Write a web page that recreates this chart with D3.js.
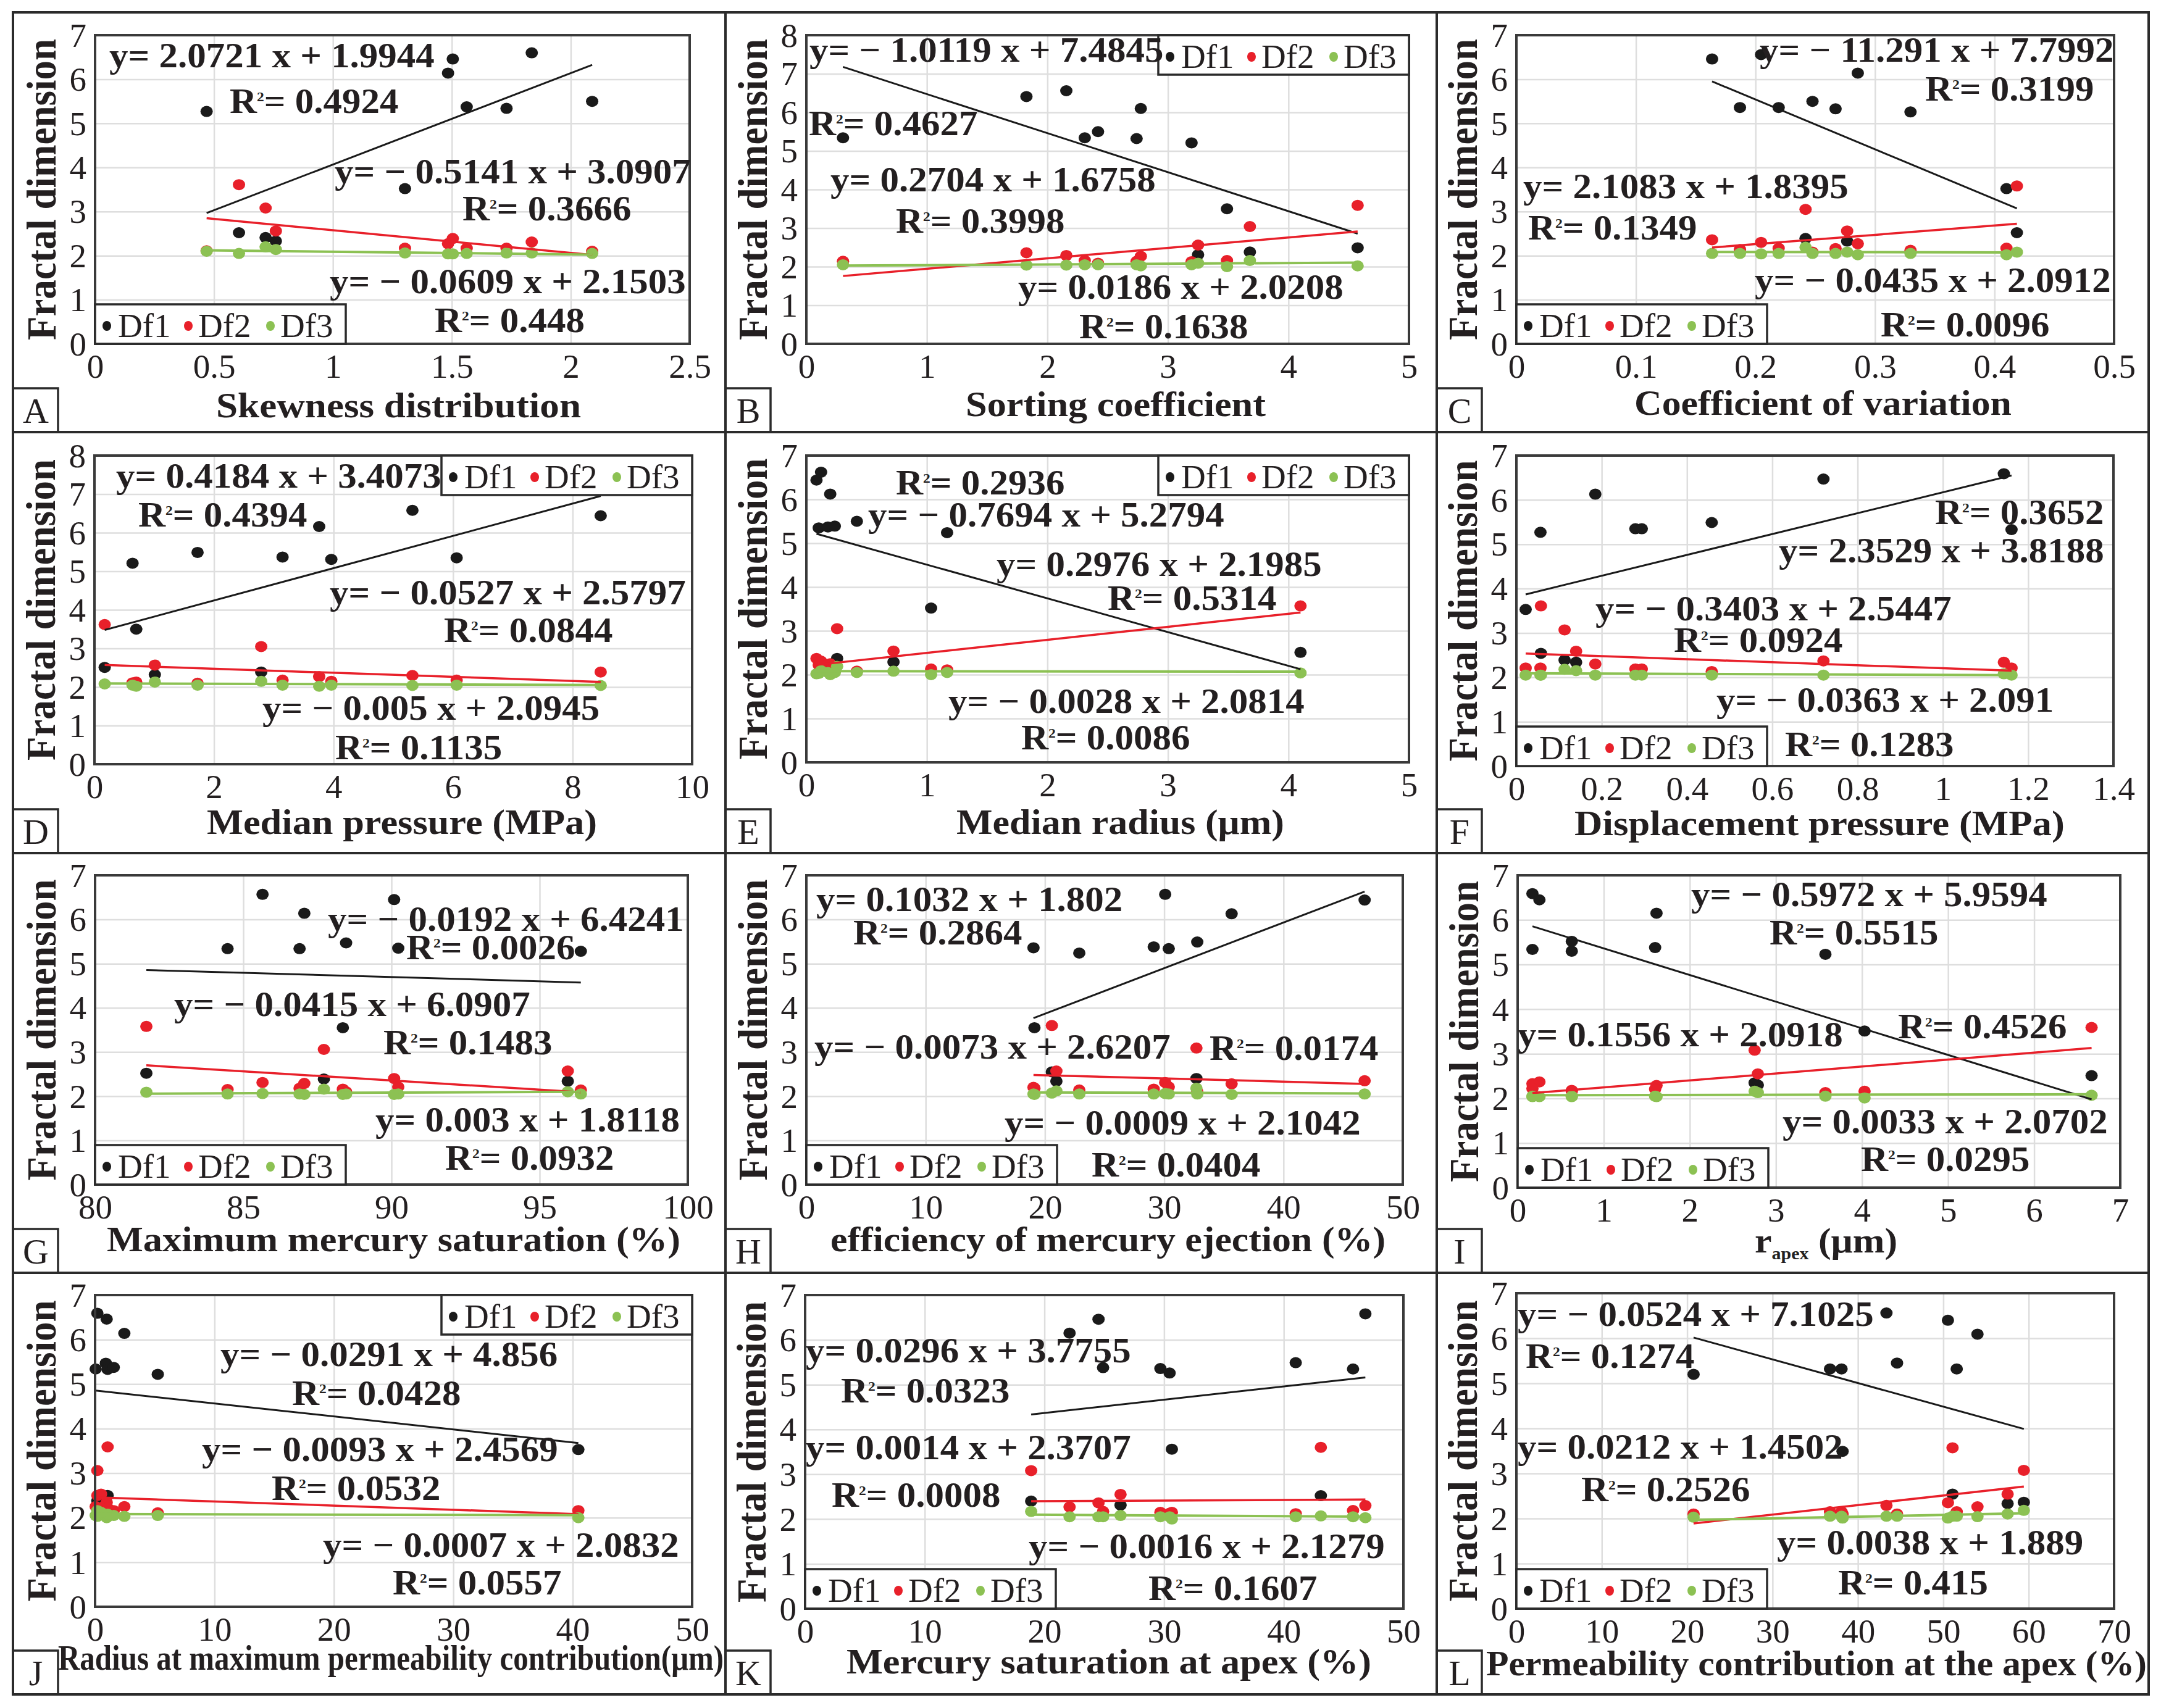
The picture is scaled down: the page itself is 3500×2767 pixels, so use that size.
<!DOCTYPE html>
<html><head><meta charset="utf-8">
<script src="https://cdn.jsdelivr.net/npm/d3@7"></script>
<style>
body{margin:0;background:#fff}
svg text{font-family:"Liberation Serif","Times New Roman",serif;fill:#231f20}
</style>
</head><body>
<svg id="c" width="3500" height="2767"></svg>
<script>
// ---------------- DATA ----------------
const SERIES = ["Df1", "Df2", "Df3"];

// A: Skewness distribution
const A_x   = [0.469, 0.605, 0.717, 0.76, 1.303, 1.484, 1.504, 1.5625, 1.73, 1.836, 2.09];
const A_df1 = [5.27, 2.52, 2.41, 2.33, 3.52, 6.14, 6.46, 5.375, 5.34, 6.6, 5.5];
const A_df2 = [2.11, 3.61, 3.08, 2.56, 2.17, 2.27, 2.39, 2.17, 2.17, 2.31, 2.1];
const A_df3 = [2.1, 2.05, 2.2, 2.14, 2.06, 2.04, 2.04, 2.05, 2.06, 2.06, 2.05];
const A_fit = [[2.0721, 1.9944], [-0.5141, 3.0907], [-0.0609, 2.1503]];
const A_r2  = [0.4924, 0.3666, 0.448];
const A_xTicks = [0, 0.5, 1, 1.5, 2, 2.5];

// B: Sorting coefficient
const B_x   = [0.304, 1.826, 2.157, 2.31, 2.42, 2.74, 2.775, 3.196, 3.25, 3.49, 3.68, 4.574];
const B_df1 = [5.34, 6.41, 6.56, 5.34, 5.5, 5.32, 6.1, 5.21, 2.31, 3.5, 2.38, 2.49];
const B_df2 = [2.14, 2.36, 2.29, 2.16, 2.09, 2.14, 2.27, 2.13, 2.56, 2.16, 3.04, 3.59];
const B_df3 = [2.05, 2.04, 2.04, 2.05, 2.05, 2.05, 2.02, 2.05, 2.09, 2.0, 2.16, 2.02];
const B_fit = [[-1.0119, 7.4845], [0.2704, 1.6758], [0.0186, 2.0208]];
const B_r2  = [0.4627, 0.3998, 0.1638];
const B_xTicks = [0, 1, 2, 3, 4, 5];

// C: Coefficient of variation
const C_x   = [0.1637, 0.187, 0.2047, 0.2194, 0.2419, 0.2477, 0.267, 0.2767, 0.2856, 0.3297, 0.41, 0.4187];
const C_df1 = [6.46, 5.36, 6.56, 5.36, 2.39, 5.5, 5.33, 2.33, 6.14, 5.26, 3.52, 2.52];
const C_df2 = [2.36, 2.14, 2.3, 2.17, 3.05, 2.08, 2.16, 2.56, 2.27, 2.12, 2.17, 3.58];
const C_df3 = [2.05, 2.05, 2.04, 2.05, 2.19, 2.05, 2.05, 2.08, 2.02, 2.05, 2.02, 2.08];
const C_fit = [[-11.291, 7.7992], [2.1083, 1.8395], [-0.0435, 2.0912]];
const C_r2  = [0.3199, 0.1349, 0.0096];
const C_xTicks = [0, 0.1, 0.2, 0.3, 0.4, 0.5];

// D: Median pressure (MPa)
const D_x   = [0.171, 0.637, 0.699, 1.01, 1.725, 2.79, 3.147, 3.76, 3.963, 5.32, 6.06, 8.47];
const D_df1 = [2.51, 5.21, 3.5, 2.32, 5.49, 2.39, 5.37, 6.16, 5.31, 6.58, 5.35, 6.44];
const D_df2 = [3.62, 2.11, 2.13, 2.57, 2.1, 3.05, 2.18, 2.27, 2.15, 2.3, 2.18, 2.39];
const D_df3 = [2.08, 2.05, 2.02, 2.13, 2.05, 2.15, 2.05, 2.02, 2.05, 2.04, 2.05, 2.04];
const D_fit = [[0.4184, 3.4073], [-0.0527, 2.5797], [-0.005, 2.0945]];
const D_r2  = [0.4394, 0.0844, 0.1135];
const D_xTicks = [0, 2, 4, 6, 8, 10];

// E: Median radius (μm)
const E_x   = [0.084, 0.122, 0.198, 0.103, 0.179, 0.236, 0.419, 1.168, 1.035, 0.255, 0.723, 4.1];
const E_df1 = [6.44, 6.62, 6.12, 5.35, 5.37, 5.39, 5.5, 5.24, 3.52, 2.37, 2.29, 2.51];
const E_df2 = [2.37, 2.31, 2.25, 2.22, 2.22, 2.17, 2.08, 2.11, 2.13, 3.05, 2.54, 3.57];
const E_df3 = [2.02, 2.09, 2.0, 2.03, 2.05, 2.05, 2.05, 2.05, 2.0, 2.19, 2.08, 2.04];
const E_fit = [[-0.7694, 5.2794], [0.2976, 2.1985], [-0.0028, 2.0814]];
const E_r2  = [0.2936, 0.5314, 0.0086];
const E_xTicks = [0, 1, 2, 3, 4, 5];

// F: Displacement pressure (MPa)
const F_x   = [0.0217, 0.0564, 0.0575, 0.113, 0.14, 0.185, 0.279, 0.294, 0.458, 0.72, 1.143, 1.161];
const F_df1 = [3.53, 5.27, 2.54, 2.39, 2.34, 6.13, 5.35, 5.35, 5.49, 6.47, 6.59, 5.33];
const F_df2 = [2.21, 2.21, 3.61, 3.07, 2.59, 2.3, 2.19, 2.19, 2.13, 2.37, 2.34, 2.21];
const F_df3 = [2.05, 2.05, 2.05, 2.18, 2.15, 2.05, 2.05, 2.05, 2.05, 2.05, 2.08, 2.05];
const F_fit = [[2.3529, 3.8188], [-0.3403, 2.5447], [-0.0363, 2.091]];
const F_r2  = [0.3652, 0.0924, 0.1283];
const F_xTicks = [0, 0.2, 0.4, 0.6, 0.8, 1, 1.2, 1.4];

// G: Maximum mercury saturation (%)
const G_x   = [81.73, 84.47, 85.65, 86.9, 87.06, 87.72, 88.36, 88.47, 90.09, 90.23, 95.95, 96.39];
const G_df1 = [2.52, 5.34, 6.57, 5.34, 6.14, 2.39, 3.55, 5.47, 6.45, 5.35, 2.34, 5.28];
const G_df2 = [3.58, 2.15, 2.31, 2.18, 2.29, 3.06, 2.16, 2.1, 2.4, 2.21, 2.57, 2.14];
const G_df3 = [2.09, 2.05, 2.06, 2.05, 2.04, 2.16, 2.04, 2.05, 2.04, 2.05, 2.1, 2.05];
const G_fit = [[-0.0192, 6.4241], [-0.0415, 6.0907], [0.003, 1.8118]];
const G_r2  = [0.0026, 0.1483, 0.0932];
const G_xTicks = [80, 85, 90, 95, 100];

// H: efficiency of mercury ejection (%)
const H_x   = [19.04, 19.12, 20.58, 20.96, 22.88, 29.12, 30.08, 30.38, 32.7, 32.77, 35.65, 46.8];
const H_df1 = [5.36, 3.55, 2.55, 2.34, 5.24, 5.38, 6.57, 5.34, 2.4, 5.49, 6.13, 6.44];
const H_df2 = [2.2, 2.18, 3.6, 2.57, 2.14, 2.16, 2.31, 2.21, 3.09, 2.1, 2.28, 2.35];
const H_df3 = [2.05, 2.04, 2.07, 2.12, 2.05, 2.05, 2.06, 2.05, 2.18, 2.05, 2.04, 2.05];
const H_fit = [[0.1032, 1.802], [-0.0073, 2.6207], [-0.0009, 2.1042]];
const H_r2  = [0.2864, 0.0174, 0.0404];
const H_xTicks = [0, 10, 20, 30, 40, 50];

// I: r_apex (μm)
const I_x   = [0.172, 0.253, 0.172, 0.629, 0.629, 1.613, 1.597, 3.575, 4.03, 2.753, 2.79, 6.667];
const I_df1 = [6.59, 6.45, 5.34, 5.52, 5.3, 6.15, 5.38, 5.23, 3.51, 2.35, 2.3, 2.51];
const I_df2 = [2.33, 2.37, 2.22, 2.16, 2.18, 2.29, 2.21, 2.13, 2.16, 3.08, 2.55, 3.59];
const I_df3 = [2.04, 2.04, 2.05, 2.04, 2.05, 2.04, 2.05, 2.05, 2.01, 2.16, 2.13, 2.07];
const I_fit = [[-0.5972, 5.9594], [0.1556, 2.0918], [0.0033, 2.0702]];
const I_r2  = [0.5515, 0.4526, 0.0295];
const I_xTicks = [0, 1, 2, 3, 4, 5, 6, 7];

// J: Radius at maximum permeability contribution (μm)
const J_x   = [0.19, 0.97, 2.45, 0.05, 0.9, 1.05, 1.56, 5.25, 40.47, 1.05, 0.19, 0.5];
const J_df1 = [6.59, 6.46, 6.14, 5.34, 5.47, 5.33, 5.375, 5.22, 3.53, 2.5, 2.38, 2.33];
const J_df2 = [2.5, 2.34, 2.25, 2.25, 2.3, 2.22, 2.16, 2.11, 2.16, 3.59, 3.06, 2.53];
const J_df3 = [2.03, 2.0, 2.03, 2.05, 2.05, 2.05, 2.05, 2.05, 2.0, 2.08, 2.16, 2.12];
const J_fit = [[-0.0291, 4.856], [-0.0093, 2.4569], [-0.0007, 2.0832]];
const J_r2  = [0.0428, 0.0532, 0.0557];
const J_xTicks = [0, 10, 20, 30, 40, 50];

// K: Mercury saturation at apex (%)
const K_x   = [18.89, 22.1, 24.52, 24.9, 26.36, 29.69, 30.46, 30.65, 41.0, 43.1, 45.79, 46.82];
const K_df1 = [2.4, 6.15, 6.46, 5.38, 2.31, 5.36, 5.26, 3.56, 5.49, 2.52, 5.35, 6.58];
const K_df2 = [3.08, 2.27, 2.36, 2.17, 2.55, 2.15, 2.13, 2.15, 2.12, 3.6, 2.19, 2.3];
const K_df3 = [2.17, 2.05, 2.05, 2.05, 2.08, 2.05, 2.05, 2.0, 2.05, 2.07, 2.05, 2.03];
const K_fit = [[0.0296, 3.7755], [0.0014, 2.3707], [-0.0016, 2.1279]];
const K_r2  = [0.0323, 0.0008, 0.1607];
const K_xTicks = [0, 10, 20, 30, 40, 50];

// L: Permeability contribution at the apex (%)
const L_x   = [20.75, 36.73, 38.08, 38.2, 43.34, 44.58, 50.54, 51.08, 51.57, 54.0, 57.53, 59.43];
const L_df1 = [5.2, 5.32, 5.32, 3.49, 6.56, 5.45, 6.4, 2.54, 5.32, 6.09, 2.33, 2.36];
const L_df2 = [2.1, 2.15, 2.15, 2.1, 2.29, 2.1, 2.35, 3.57, 2.15, 2.26, 2.54, 3.07];
const L_df3 = [2.03, 2.05, 2.05, 2.01, 2.05, 2.05, 2.01, 2.05, 2.05, 2.04, 2.1, 2.18];
const L_fit = [[-0.0524, 7.1025], [0.0212, 1.4502], [0.0038, 1.889]];
const L_r2  = [0.1274, 0.2526, 0.415];
const L_xTicks = [0, 10, 20, 30, 40, 50, 60, 70];

const Y7 = [0, 1, 2, 3, 4, 5, 6, 7];
const Y8 = [0, 1, 2, 3, 4, 5, 6, 7, 8];
const Y_TITLE = "Fractal dimension";

const panels = [
  {id:"A", title:"Skewness distribution", x:A_x, df:[A_df1,A_df2,A_df3], fit:A_fit, r2:A_r2, xTicks:A_xTicks, yTicks:Y7},
  {id:"B", title:"Sorting coefficient", x:B_x, df:[B_df1,B_df2,B_df3], fit:B_fit, r2:B_r2, xTicks:B_xTicks, yTicks:Y8},
  {id:"C", title:"Coefficient of variation", x:C_x, df:[C_df1,C_df2,C_df3], fit:C_fit, r2:C_r2, xTicks:C_xTicks, yTicks:Y7},
  {id:"D", title:"Median pressure (MPa)", x:D_x, df:[D_df1,D_df2,D_df3], fit:D_fit, r2:D_r2, xTicks:D_xTicks, yTicks:Y8},
  {id:"E", title:"Median radius (μm)", x:E_x, df:[E_df1,E_df2,E_df3], fit:E_fit, r2:E_r2, xTicks:E_xTicks, yTicks:Y7},
  {id:"F", title:"Displacement pressure (MPa)", x:F_x, df:[F_df1,F_df2,F_df3], fit:F_fit, r2:F_r2, xTicks:F_xTicks, yTicks:Y7},
  {id:"G", title:"Maximum mercury saturation (%)", x:G_x, df:[G_df1,G_df2,G_df3], fit:G_fit, r2:G_r2, xTicks:G_xTicks, yTicks:Y7},
  {id:"H", title:"efficiency of mercury ejection (%)", x:H_x, df:[H_df1,H_df2,H_df3], fit:H_fit, r2:H_r2, xTicks:H_xTicks, yTicks:Y7},
  {id:"I", title:["r","apex"," (μm)"], x:I_x, df:[I_df1,I_df2,I_df3], fit:I_fit, r2:I_r2, xTicks:I_xTicks, yTicks:Y7},
  {id:"J", title:"Radius at maximum permeability contribution(μm)", x:J_x, df:[J_df1,J_df2,J_df3], fit:J_fit, r2:J_r2, xTicks:J_xTicks, yTicks:Y7},
  {id:"K", title:"Mercury saturation at apex (%)", x:K_x, df:[K_df1,K_df2,K_df3], fit:K_fit, r2:K_r2, xTicks:K_xTicks, yTicks:Y7},
  {id:"L", title:"Permeability contribution at the apex (%)", x:L_x, df:[L_df1,L_df2,L_df3], fit:L_fit, r2:L_r2, xTicks:L_xTicks, yTicks:Y7}
];

// ---------------- LAYOUT (pixels) ----------------
const layout = {
  A:{rect:[154,57,1117,557], legend:"bl", cell:[21,20,1175,700], title:[350,591,676],
     labels:[[177,109],[372,183],[542,297],[749,357],[534,475],[704,538]]},
  B:{rect:[1306,57,2282,557], legend:"tr", cell:[1175,20,2327,700], title:[1564,486,674],
     labels:[[1311,100],[1310,219],[1345,310],[1451,377],[1649,484],[1748,548]]},
  C:{rect:[2456,57,3424,557], legend:"bl", cell:[2327,20,3480,700], title:[2647,611,672],
     labels:[[2850,100],[3118,163],[2467,321],[2475,388],[2842,473],[3046,545]]},
  D:{rect:[153,738,1121,1238], legend:"tr", cell:[21,700,1175,1382], title:[335,632,1351],
     labels:[[188,790],[224,853],[534,979],[719,1040],[425,1166],[543,1230]]},
  E:{rect:[1306,738,2282,1235], legend:"tr", cell:[1175,700,2327,1382], title:[1549,531,1351],
     labels:[[1406,853],[1451,801],[1614,933],[1794,988],[1536,1155],[1654,1214]]},
  F:{rect:[2456,738,3423,1241], legend:"bl", cell:[2327,700,3480,1382], title:[2550,794,1353],
     labels:[[2881,911],[3134,849],[2584,1005],[2711,1056],[2780,1153],[2891,1225]]},
  G:{rect:[154,1418,1114,1919], legend:"bl", cell:[21,1382,1175,2062], title:[173,929,2027],
     labels:[[531,1508],[658,1554],[282,1646],[621,1708],[608,1833],[721,1895]]},
  H:{rect:[1306,1418,2272,1919], legend:"bl", cell:[1175,1382,2327,2062], title:[1345,899,2027],
     labels:[[1322,1476],[1382,1530],[1319,1715],[1959,1717],[1627,1838],[1768,1906]]},
  I:{rect:[2458,1418,3434,1924], legend:"bl", cell:[2327,1382,3480,2062], title:[2842,0,2029],
     labels:[[2739,1468],[2866,1530],[2458,1695],[3074,1682],[2887,1836],[3014,1897]]},
  J:{rect:[154,2098,1121,2603], legend:"tr", cell:[21,2062,1175,2745], title:[94,1078,2705],
     labels:[[357,2213],[473,2276],[327,2367],[440,2430],[523,2522],[636,2583]]},
  K:{rect:[1304,2098,2273,2606], legend:"bl", cell:[1175,2062,2327,2745], title:[1371,850,2711],
     labels:[[1305,2207],[1362,2272],[1305,2364],[1347,2441],[1666,2524],[1860,2592]]},
  L:{rect:[2456,2095,3424,2606], legend:"bl", cell:[2327,2062,3480,2745], title:[2407,1070,2714],
     labels:[[2458,2148],[2471,2216],[2458,2363],[2561,2432],[2878,2518],[2977,2583]]}
};

const COLORS = ["#1a1a1a", "#e8202a", "#8cc153"];
const LINE_W = [3, 3.5, 4];
const TXT = "#231f20";
const SX = 1.07;        // horizontal stretch of the original figure
const FS_LABEL = 57, FS_TICK = 55, FS_LEG = 55, FS_TITLE = 58, FS_Y = 63;

const svg = d3.select("#c");
svg.append("rect").attr("width",3500).attr("height",2767).attr("fill","#fff");

function eqText(m, c) {
  return m < 0 ? `y= − ${Math.abs(m)} x + ${c}` : `y= ${m} x + ${c}`;
}

function cleanAxis(s) {
  s.attr("font-family", null).attr("font-size", null);
  s.select(".domain").remove();
}

panels.forEach(p => {
  const Ly = layout[p.id];
  const [l, t, r, b] = Ly.rect;
  const x = d3.scaleLinear().domain([p.xTicks[0], p.xTicks[p.xTicks.length - 1]]).range([l, r]);
  const y = d3.scaleLinear().domain([0, p.yTicks[p.yTicks.length - 1]]).range([b, t]);
  const g = svg.append("g").attr("class", "panel-" + p.id);

  // grid lines
  g.append("g").attr("transform", `translate(0,${b})`)
    .call(d3.axisBottom(x).tickValues(p.xTicks).tickSize(-(b - t)).tickFormat(""))
    .call(cleanAxis)
    .call(s => s.selectAll("line").attr("stroke", "#dedede").attr("stroke-width", 2.5));
  g.append("g").attr("transform", `translate(${l},0)`)
    .call(d3.axisLeft(y).tickValues(p.yTicks).tickSize(-(r - l)).tickFormat(""))
    .call(cleanAxis)
    .call(s => s.selectAll("line").attr("stroke", "#dedede").attr("stroke-width", 2.5));

  // tick labels
  g.append("g").attr("transform", `translate(0,${b})`)
    .call(d3.axisBottom(x).tickValues(p.xTicks).tickSize(0).tickFormat(d => String(d)))
    .call(cleanAxis)
    .call(s => s.selectAll("text").attr("y", 55).attr("dy", null)
      .attr("font-size", FS_TICK).attr("fill", TXT));
  g.append("g").attr("transform", `translate(${l},0)`)
    .call(d3.axisLeft(y).tickValues(p.yTicks).tickSize(0).tickFormat(d => String(d)))
    .call(cleanAxis)
    .call(s => s.selectAll("text").attr("x", -14).attr("dy", "0.33em")
      .attr("font-size", FS_TICK).attr("fill", TXT));

  // points
  p.df.forEach((vals, i) => {
    g.append("g").selectAll("ellipse")
      .data(p.x.map((xv, k) => [xv, vals[k]]))
      .join("ellipse")
      .attr("cx", d => x(d[0])).attr("cy", d => y(d[1]))
      .attr("rx", 10).attr("ry", 9).attr("fill", COLORS[i]);
  });

  // trend lines
  const [x0, x1] = d3.extent(p.x);
  p.fit.forEach(([m, c], i) => {
    g.append("path")
      .datum([[x0, m * x0 + c], [x1, m * x1 + c]])
      .attr("d", d3.line().x(d => x(d[0])).y(d => y(d[1])))
      .attr("stroke", COLORS[i]).attr("stroke-width", LINE_W[i]).attr("fill", "none");
  });

  // plot border
  g.append("rect").attr("x", l).attr("y", t).attr("width", r - l).attr("height", b - t)
    .attr("fill", "none").attr("stroke", "#3a3a3a").attr("stroke-width", 4);

  // legend
  const LW = 406, LH = 64;
  const lx = Ly.legend === "tr" ? r - LW : l;
  const ly = Ly.legend === "tr" ? t : b - LH;
  const lg = g.append("g");
  lg.append("rect").attr("x", lx).attr("y", ly).attr("width", LW).attr("height", LH)
    .attr("fill", "#fff").attr("stroke", "#2b2b2b").attr("stroke-width", 3.5);
  const dotOff = [19, 151, 284], txtOff = [37, 167, 300];
  SERIES.forEach((s, i) => {
    lg.append("ellipse").attr("cx", lx + dotOff[i]).attr("cy", ly + 35)
      .attr("rx", 7).attr("ry", 8).attr("fill", COLORS[i]);
    lg.append("text").attr("x", lx + txtOff[i]).attr("y", ly + 53)
      .attr("font-size", FS_LEG).text(s);
  });

  // equation and R² labels
  p.fit.forEach(([m, c], i) => {
    const [ex, ey] = Ly.labels[2 * i];
    g.append("text").attr("transform", `translate(${ex},${ey}) scale(${SX},1)`)
      .attr("font-size", FS_LABEL).attr("font-weight", "bold").text(eqText(m, c));
    const [rx, ry] = Ly.labels[2 * i + 1];
    const tr = g.append("text").attr("transform", `translate(${rx},${ry}) scale(${SX},1)`)
      .attr("font-size", FS_LABEL).attr("font-weight", "bold");
    tr.append("tspan").text("R");
    tr.append("tspan").attr("font-size", 22).attr("dy", -19).text("2");
    tr.append("tspan").attr("dy", 19).text("= " + p.r2[i]);
  });

  // y-axis title
  g.append("text")
    .attr("transform", `translate(${l - 64},${(t + b) / 2}) scale(${SX},1) rotate(-90)`)
    .attr("text-anchor", "middle").attr("font-size", FS_Y).attr("font-weight", "bold")
    .text(Y_TITLE);

  // x-axis title
  const [tx, tw, tb] = Ly.title;
  if (Array.isArray(p.title)) {
    const tt = g.append("text").attr("transform", `translate(${tx},${tb}) scale(${SX},1)`)
      .attr("font-size", FS_TITLE).attr("font-weight", "bold");
    tt.append("tspan").text(p.title[0]);
    tt.append("tspan").attr("font-size", 28).attr("dy", 11).text(p.title[1]);
    tt.append("tspan").attr("dy", -11).text(p.title[2]);
  } else {
    g.append("text").attr("x", tx).attr("y", tb)
      .attr("textLength", tw).attr("lengthAdjust", "spacingAndGlyphs")
      .attr("font-size", FS_TITLE).attr("font-weight", "bold").text(p.title);
  }

  // panel letter box
  const [cl, ct, cr, cb] = Ly.cell;
  g.append("rect").attr("x", cl).attr("y", cb - 71).attr("width", 73).attr("height", 71)
    .attr("fill", "#fff").attr("stroke", "#2b2b2b").attr("stroke-width", 3.5);
  g.append("text").attr("x", cl + 37).attr("y", cb - 15).attr("text-anchor", "middle")
    .attr("font-size", 58).text(p.id);
});

// outer frame and dividers
const frame = svg.append("g").attr("stroke", "#2b2b2b").attr("stroke-width", 4).attr("fill", "none");
frame.append("rect").attr("x", 21).attr("y", 20).attr("width", 3459).attr("height", 2725);
[1175, 2327].forEach(v => frame.append("line").attr("x1", v).attr("x2", v).attr("y1", 20).attr("y2", 2745));
[700, 1382, 2062].forEach(v => frame.append("line").attr("x1", 21).attr("x2", 3480).attr("y1", v).attr("y2", v));
</script>
</body></html>
